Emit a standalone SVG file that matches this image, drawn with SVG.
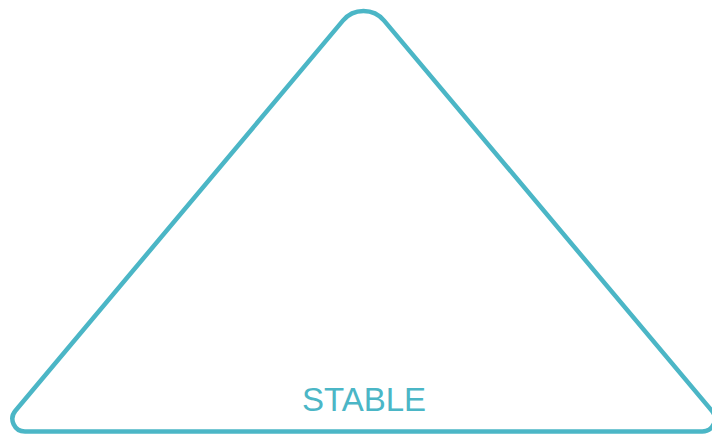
<svg xmlns="http://www.w3.org/2000/svg" width="712" height="435" viewBox="0 0 712 435">
<style>
.shape{fill:none;stroke:#4bb6c6;stroke-width:4.5;stroke-linejoin:round}
.label{font-family:"Liberation Sans",Arial,sans-serif;font-size:33px;fill:#4bb6c6;text-anchor:middle}
</style>
<rect width="712" height="435" fill="#ffffff"/>
<g id="stable">
<path class="shape" d="M 342.9 20.6 A 26.8 26.8 0 0 1 384.1 20.6 L 711.9 410.8 A 12.6 12.6 0 0 1 702.3 431.5 L 25 431.5 A 12.6 12.6 0 0 1 15.4 410.8 Z"/>
<text class="label" x="364" y="411">STABLE</text>
</g>
<g id="connectors"></g>
</svg>
